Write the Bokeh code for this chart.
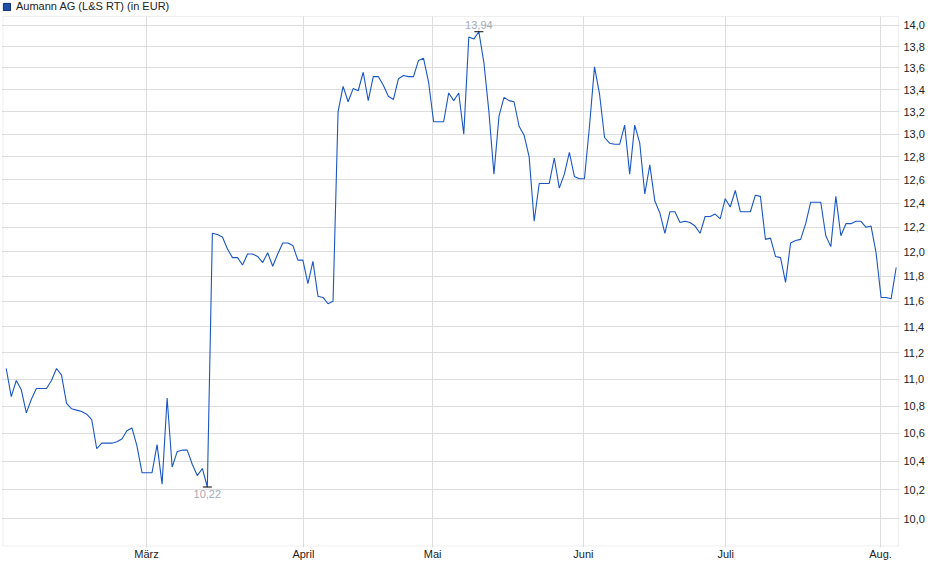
import numpy as np
from bokeh.plotting import figure
from bokeh.models import (Range1d, FixedTicker, CustomJSTickFormatter, Legend, LegendItem,
                          BoxAnnotation)
from bokeh.core.properties import value
from bokeh.embed import file_html
from bokeh.resources import INLINE

TITLE = "Aumann AG (L&S RT) (in EUR)"

prices = [
    11.08, 10.87, 10.99, 10.92, 10.75, 10.85, 10.93, 10.93, 10.93, 10.99,
    11.08, 11.03, 10.82, 10.78, 10.77, 10.76, 10.74, 10.70, 10.49, 10.53,
    10.53, 10.53, 10.54, 10.56, 10.62, 10.64, 10.51, 10.32, 10.32, 10.32,
    10.52, 10.24, 10.86, 10.36, 10.47, 10.48, 10.48, 10.38, 10.30, 10.35,
    10.22, 12.15, 12.14, 12.12, 12.02, 11.95, 11.95, 11.89, 11.98, 11.98,
    11.96, 11.91, 11.99, 11.88, 11.98, 12.07, 12.07, 12.05, 11.93, 11.93,
    11.74, 11.92, 11.64, 11.63, 11.58, 11.60, 13.20, 13.43, 13.29, 13.41,
    13.39, 13.56, 13.30, 13.52, 13.52, 13.44, 13.34, 13.31, 13.50, 13.53,
    13.52, 13.52, 13.67, 13.69, 13.47, 13.11, 13.11, 13.11, 13.37, 13.30,
    13.37, 13.00, 13.89, 13.87, 13.94, 13.65, 13.20, 12.65, 13.16, 13.33,
    13.30, 13.29, 13.07, 12.99, 12.80, 12.25, 12.57, 12.57, 12.57, 12.79,
    12.53, 12.65, 12.84, 12.63, 12.61, 12.61, 13.07, 13.61, 13.36, 12.97,
    12.92, 12.91, 12.91, 13.08, 12.65, 13.08, 12.92, 12.48, 12.73, 12.42,
    12.32, 12.15, 12.33, 12.33, 12.24, 12.25, 12.24, 12.21, 12.15, 12.29,
    12.29, 12.31, 12.27, 12.44, 12.37, 12.51, 12.33, 12.33, 12.33, 12.47,
    12.46, 12.10, 12.11, 11.96, 11.95, 11.75, 12.07, 12.09, 12.10, 12.23,
    12.41, 12.41, 12.41, 12.13, 12.04, 12.46, 12.13, 12.23, 12.23, 12.25,
    12.25, 12.20, 12.21, 11.99, 11.63, 11.63, 11.62, 11.87,
]
days = list(range(len(prices)))

month_pos = [27.9, 59.1, 84.8, 114.8, 143.1, 173.9]
month_labels = ["März", "April", "Mai", "Juni", "Juli", "Aug."]

y_ticks = [10.0, 10.2, 10.4, 10.6, 10.8, 11.0, 11.2, 11.4, 11.6, 11.8, 12.0,
           12.2, 12.4, 12.6, 12.8, 13.0, 13.2, 13.4, 13.6, 13.8, 14.0]

# visible chart box (in data units) and the full drawing range
BOX_X = (-0.64, 177.46)
BOX_Y = (9.817, 14.086)
FULL_X = (-0.94, 177.66)
FULL_Y = (9.807, 14.240)

FONT = "Liberation Sans"
LINE = "#1a56c2"
GRID = "#dddddd"
BORDER = "#c8c8c8"

W, H = 932, 571
BOTTOM = 24
FRAME_H = H - BOTTOM

p = figure(width=W, height=H, output_backend="svg", toolbar_location=None,
           y_axis_type="log", y_axis_location="right",
           x_range=Range1d(*FULL_X), y_range=Range1d(*FULL_Y),
           min_border_left=1, min_border_right=33, min_border_top=0,
           min_border_bottom=BOTTOM)
p.background_fill_color = "white"
p.border_fill_color = "white"
p.outline_line_color = None

# white cover above the chart box (hides grid lines there)
p.add_layout(BoxAnnotation(bottom=BOX_Y[1], fill_color="white", fill_alpha=1,
                           line_color=None, level="glyph"))
# chart box border
p.add_layout(BoxAnnotation(left=BOX_X[0], right=BOX_X[1], bottom=BOX_Y[0], top=BOX_Y[1],
                           fill_alpha=0, line_color=BORDER, line_width=1,
                           level="glyph"))

line_r = p.line(days, prices, line_color=LINE, line_width=1.1)

# min / max markers
imax = int(np.argmax(prices))
imin = int(np.argmin(prices))
vmax = prices[imax]
vmin = prices[imin]
p.scatter([imax, imin], [vmax, vmin], marker="dash", size=9, line_color="black",
          line_width=1)
p.text([imax], [vmax], text=[f"{vmax:.2f}".replace(".", ",")], text_align="center",
       text_baseline="bottom", y_offset=-3, text_font=value(FONT),
       text_font_size="11px", text_color="#a3abb5")
p.text([imin], [vmin], text=[f"{vmin:.2f}".replace(".", ",")], text_align="center",
       text_baseline="top", y_offset=3, text_font=value(FONT),
       text_font_size="11px", text_color="#a3abb5")

# axes
p.xaxis.ticker = FixedTicker(ticks=month_pos)
p.xaxis.major_label_overrides = {pos: lab for pos, lab in zip(month_pos, month_labels)}
p.yaxis.ticker = FixedTicker(ticks=y_ticks)
p.yaxis.formatter = CustomJSTickFormatter(code="return tick.toFixed(1).replace('.', ',');")
for ax in (p.xaxis[0], p.yaxis[0]):
    ax.axis_line_color = None
    ax.major_tick_line_color = None
    ax.minor_tick_line_color = None
    ax.major_tick_out = 0
    ax.major_tick_in = 0
    ax.minor_tick_out = 0
    ax.minor_tick_in = 0
    ax.major_label_text_font = FONT
    ax.major_label_text_font_size = "11px"
    ax.major_label_text_color = "#222222"
p.xaxis.major_label_standoff = 0
p.yaxis.major_label_standoff = 4

p.xgrid.grid_line_color = GRID
p.ygrid.grid_line_color = GRID

# legend-style title with a blue square, at the top-left above the chart box
nan = float("nan")
sq = p.quad(left=[nan], right=[nan], top=[nan], bottom=[nan], fill_color="#1c4fa8",
            line_color="#0c2c6a", line_width=1)
legend = Legend(items=[LegendItem(label=TITLE, renderers=[sq], index=0)],
                location=(1, FRAME_H - 12), orientation="horizontal",
                margin=0, padding=0, spacing=0, label_standoff=5,
                glyph_width=9, glyph_height=9, label_height=11,
                label_text_font=FONT, label_text_font_size="11px",
                label_text_color="#222222", border_line_color=None,
                background_fill_alpha=0)
p.add_layout(legend)

open("out.html", "w").write(file_html(p, INLINE))
